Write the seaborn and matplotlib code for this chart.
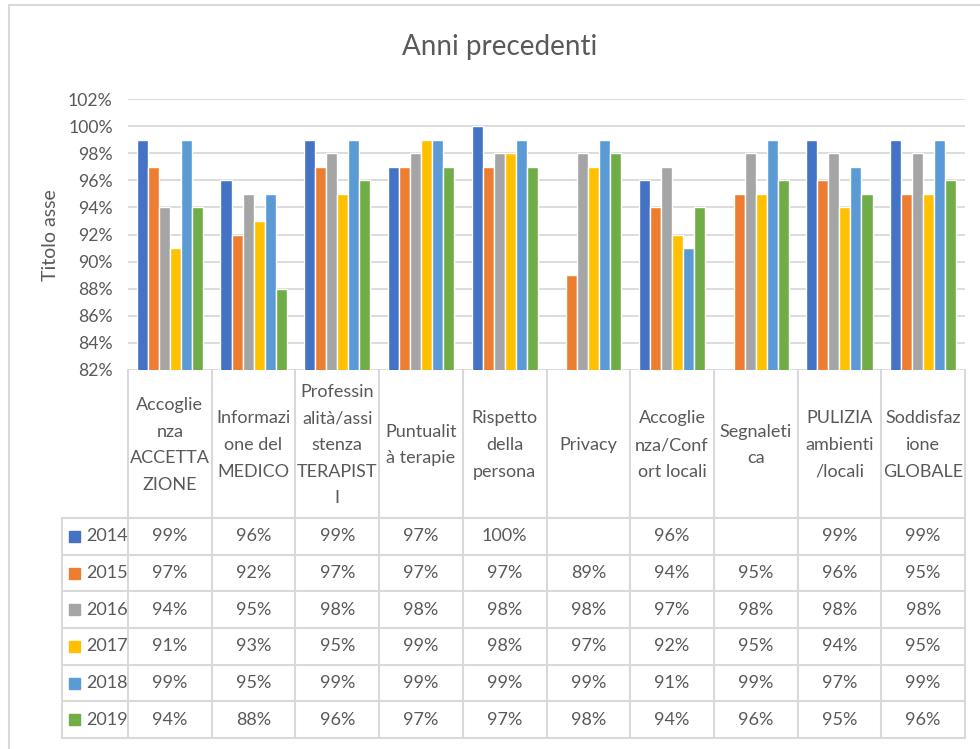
import numpy as np
import pandas as pd
import matplotlib
matplotlib.use("Agg")
import matplotlib.pyplot as plt
import seaborn as sns
from matplotlib.lines import Line2D
from matplotlib.patches import Rectangle

# --- data -----------------------------------------------------------------
categories = [
    "Accoglienza ACCETTAZIONE",
    "Informazione del MEDICO",
    "Professinalità/assistenza TERAPISTI",
    "Puntualità terapie",
    "Rispetto della persona",
    "Privacy",
    "Accoglienza/Confort locali",
    "Segnaletica",
    "PULIZIA ambienti/locali",
    "Soddisfazione GLOBALE",
]
category_labels = [
    "Accoglie\nnza\nACCETTA\nZIONE",
    "Informazi\none del\nMEDICO",
    "Professin\nalità/assi\nstenza\nTERAPIST\nI",
    "Puntualit\nà terapie",
    "Rispetto\ndella\npersona",
    "Privacy",
    "Accoglie\nnza/Conf\nort locali",
    "Segnaleti\nca",
    "PULIZIA\nambienti\n/locali",
    "Soddisfaz\nione\nGLOBALE",
]
years = ["2014", "2015", "2016", "2017", "2018", "2019"]
v2014 = [99, 96, 99, 97, 100, np.nan, 96, np.nan, 99, 99]
v2015 = [97, 92, 97, 97, 97, 89, 94, 95, 96, 95]
v2016 = [94, 95, 98, 98, 98, 98, 97, 98, 98, 98]
v2017 = [91, 93, 95, 99, 98, 97, 92, 95, 94, 95]
v2018 = [99, 95, 99, 99, 99, 99, 91, 99, 97, 99]
v2019 = [94, 88, 96, 97, 97, 98, 94, 96, 95, 96]
series = [v2014, v2015, v2016, v2017, v2018, v2019]
colors = ["#4472C4", "#ED7D31", "#A5A5A5", "#FFC000", "#5B9BD5", "#70AD47"]
y_ticks = list(range(82, 103, 2))

title = "Anni precedenti"
y_title = "Titolo asse"

# --- style ----------------------------------------------------------------
sns.set_style("white")
plt.rcParams["font.family"] = ["Lato", "DejaVu Sans"]
TXT = "#595959"
GRID = "#D9D9D9"
FS = 13

rows = []
for yr, vals in zip(years, series):
    for cat, v in zip(categories, vals):
        rows.append({"categoria": cat, "anno": yr, "valore": v})
df = pd.DataFrame(rows).dropna()

W, H = 980, 749
fig = plt.figure(figsize=(W / 100, H / 100), dpi=100)

# chart area frame
fig.add_artist(Line2D([9 / W, 1], [1 - 5 / H, 1 - 5 / H], color=GRID, lw=1.5))
fig.add_artist(Line2D([9 / W, 9 / W], [0, 1 - 5 / H], color=GRID, lw=1.5))

x0, x1 = 128, 965
ax = fig.add_axes([x0 / W, 1 - 370 / H, (x1 - x0) / W, (370 - 99) / H])
sns.barplot(data=df, x="categoria", y="valore", hue="anno",
            order=categories, hue_order=years, palette=colors,
            width=0.79, gap=0, legend=False, ax=ax, zorder=3,
            errorbar=None, saturation=1)
ax.set_xlim(-0.5, len(categories) - 0.5)
ax.set_ylim(82, 102)
ax.set_yticks(y_ticks)
ax.set_yticklabels([f"{t}%" for t in y_ticks], color=TXT, fontsize=12.7)
ax.tick_params(axis="y", length=0, pad=11)
ax.set_xticks([])
ax.set_xlabel("")
ax.set_ylabel("")
for s in ax.spines.values():
    s.set_visible(False)
for t in y_ticks:
    ax.axhline(t, color=GRID, lw=1.3, zorder=1)

fig.text(500 / W, 1 - 47 / H, title, ha="center", va="center",
         fontsize=20, color=TXT)
fig.text(50 / W, 1 - 235 / H, y_title, ha="center", va="center",
         rotation=90, fontsize=14, color=TXT)

# --- data table below the plot ---------------------------------------------
tax = fig.add_axes([x0 / W, 1 - 738 / H, (x1 - x0) / W, (738 - 370) / H])
tax.set_xlim(-0.5, len(categories) - 0.5)
tax.set_ylim(368, 0)
tax.axis("off")

unit = (x1 - x0) / len(categories)
head_h = 148
row_h = (368 - head_h) / len(years)
leg_left = -0.5 - (128 - 62) / unit
lw = 1.5

for i in range(len(categories) + 1):
    tax.plot([i - 0.5, i - 0.5], [0, 368], color=GRID, lw=lw, clip_on=False)
tax.plot([leg_left, leg_left], [head_h, 368], color=GRID, lw=lw, clip_on=False)
for k in range(len(years) + 1):
    yy = head_h + k * row_h
    tax.plot([leg_left, len(categories) - 0.5], [yy, yy], color=GRID, lw=lw,
             clip_on=False)

for i, lab in enumerate(category_labels):
    tax.text(i, head_h / 2 + 1, lab, ha="center", va="center", fontsize=FS,
             color=TXT, linespacing=1.82)

for k, (yr, vals, col) in enumerate(zip(years, series, colors)):
    yc = head_h + (k + 0.5) * row_h
    sq = 11
    tax.add_patch(Rectangle((-0.5 - (128 - 69) / unit, yc - sq / 2), sq / unit, sq,
                            color=col, clip_on=False))
    tax.text(-0.5 - (128 - 86) / unit, yc, yr, ha="left", va="center",
             fontsize=FS, color=TXT, clip_on=False)
    for i, v in enumerate(vals):
        if not np.isnan(v):
            tax.text(i, yc, f"{v:.0f}%", ha="center", va="center",
                     fontsize=FS, color=TXT)

fig.savefig("out.png", dpi=100, facecolor="white")
